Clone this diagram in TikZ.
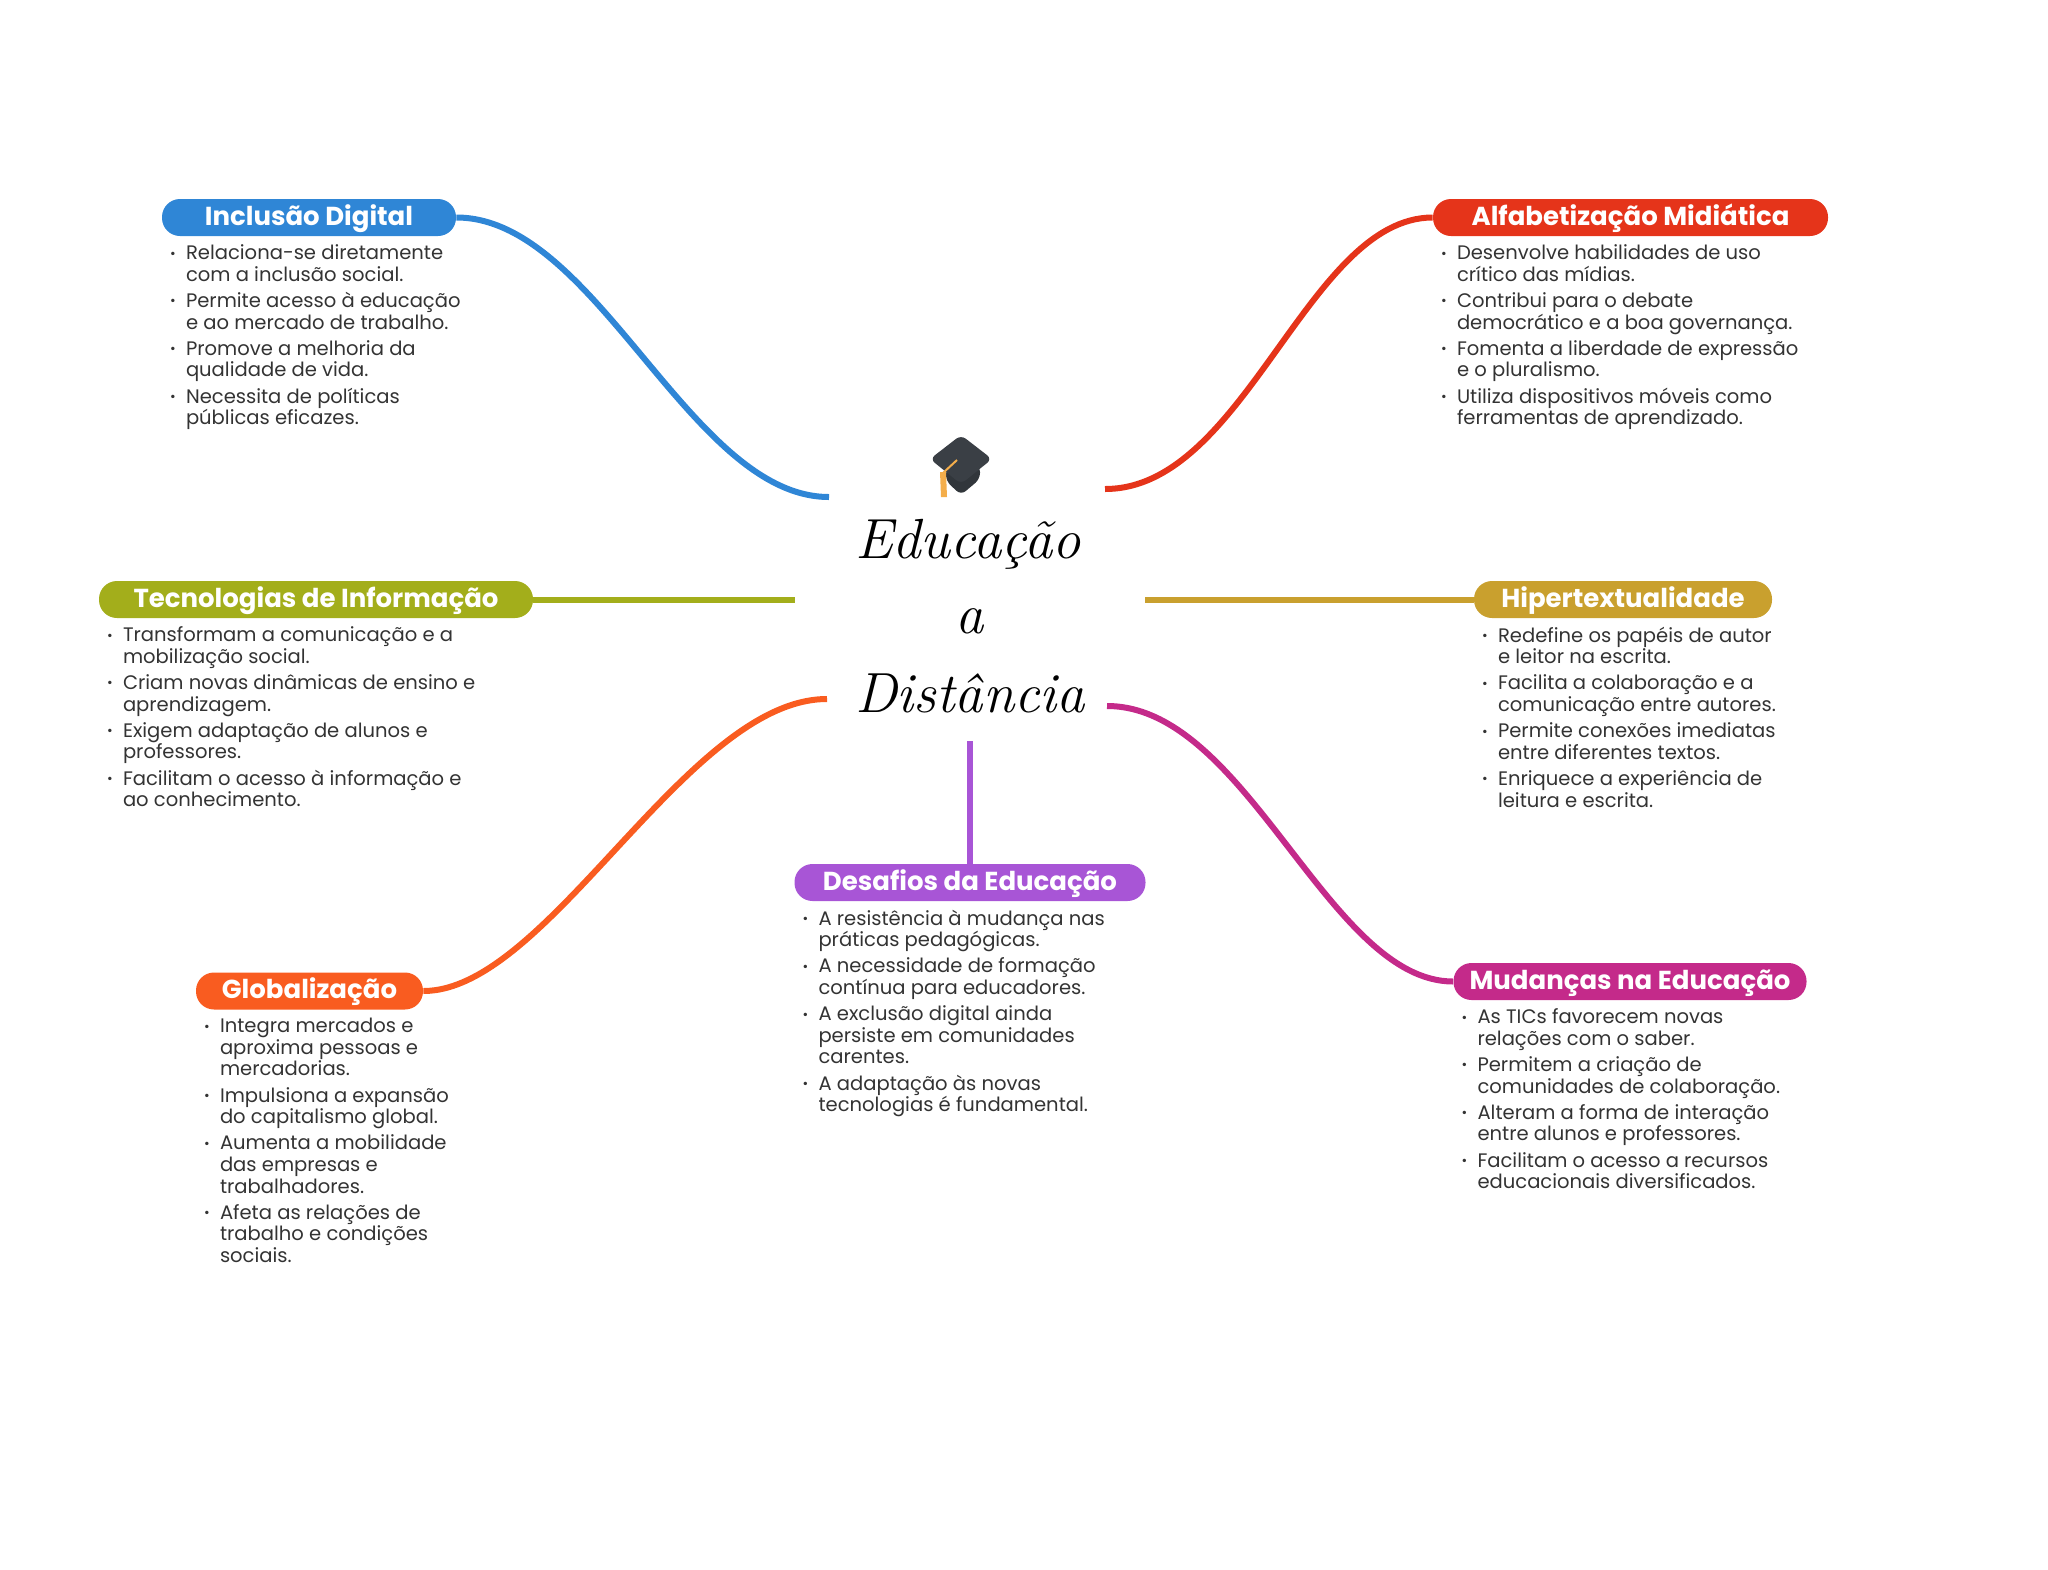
\documentclass[tikz,border=0pt]{standalone}
\usepackage{fontspec}
\setmainfont{Poppins}
\newfontfamily\titulofont{Latin Modern Roman}
\usepackage{tikz}
\usetikzlibrary{positioning}
\definecolor{azul}{HTML}{2F86D6}
\definecolor{vermelho}{HTML}{E5341A}
\definecolor{oliva}{HTML}{A3AE1B}
\definecolor{ouro}{HTML}{C9A02E}
\definecolor{roxo}{HTML}{A855D6}
\definecolor{laranja}{HTML}{F95C20}
\definecolor{magenta2}{HTML}{C42A8A}
\definecolor{texto}{HTML}{333333}
\definecolor{chapeu}{HTML}{3A3F45}
\definecolor{borla}{HTML}{F4AE4B}
\tikzset{
	ramo/.style={draw=none,rounded corners=9pt,minimum height=18.5pt,inner sep=0pt,text=white,text height=9.5pt,text depth=2pt,font=\bfseries\fontsize{13}{13}\selectfont},
	lista/.style={inner sep=0pt,align=left,text=texto,font=\fontsize{9.78}{10.8}\selectfont},
	liga/.style={line width=3pt},
	titulo/.style={inner sep=0pt,font=\titulofont\itshape\fontsize{28.3}{29}\selectfont}
}
\newcommand{\itm}{\makebox[8pt][l]{\raisebox{0.8pt}{\scalebox{0.7}{\textbullet}}}}
\newcommand{\cnt}{\hspace*{8pt}}
\newcommand{\sep}{\\[2.3pt]}

\begin{document}
\begin{tikzpicture}[x=0.5pt,y=-0.5pt]
	\useasboundingbox (0,0) rectangle (2048,1569);
	
	%Pontos livres junto ao centro
	\coordinate (cA) at (829,497);
	\coordinate (cB) at (1105,489);
	\coordinate (cC) at (795,599.5);
	\coordinate (cD) at (1145,599.5);
	\coordinate (cE) at (827,699);
	\coordinate (cF) at (1107,706);
	\coordinate (cG) at (970,741);
	
	%Ramos
	\node[ramo,fill=azul,minimum width=147pt] (incl) at (309,217.5) {Inclusão Digital};
	\node[ramo,fill=vermelho,minimum width=197.5pt] (alfa) at (1630.5,217.5) {Alfabetização Midiática};
	\node[ramo,fill=oliva,minimum width=217pt] (tecn) at (316,599.5) {Tecnologias de Informação};
	\node[ramo,fill=ouro,minimum width=149pt] (hipe) at (1623,599.5) {Hipertextualidade};
	\node[ramo,fill=roxo,minimum width=175.5pt] (desa) at (970,882.5) {Desafios da Educação};
	\node[ramo,fill=laranja,minimum width=113.5pt] (glob) at (309.5,991) {Globalização};
	\node[ramo,fill=magenta2,minimum width=176.5pt] (muda) at (1630,981.5) {Mudanças na Educação};
	
	%Ligacoes
	\draw[liga,azul] (incl.east) .. controls +(140,0) and (690,497) .. (cA);
	\draw[liga,vermelho] (alfa.west) .. controls +(-125,0) and (1245,489) .. (cB);
	\draw[liga,oliva] (tecn.east) -- (cC);
	\draw[liga,ouro] (hipe.west) -- (cD);
	\draw[liga,laranja] (glob.east) .. controls +(125,0) and (687,699) .. (cE);
	\draw[liga,magenta2] (muda.west) .. controls +(-125,0) and (1247,706) .. (cF);
	\draw[liga,roxo] (desa.north) -- (cG);
	
	%Listas
	\node[lista,anchor=north west,below right=4pt and 4pt of incl.south west] (lincl) {\itm Relaciona-se diretamente\\\cnt com a inclusão social.\sep
		\itm Permite acesso à educação\\\cnt e ao mercado de trabalho.\sep
		\itm Promove a melhoria da\\\cnt qualidade de vida.\sep
		\itm Necessita de políticas\\\cnt públicas eficazes.};
	\node[lista,below right=4pt and 4pt of alfa.south west] (lalfa) {\itm Desenvolve habilidades de uso\\\cnt crítico das mídias.\sep
		\itm Contribui para o debate\\\cnt democrático e a boa governança.\sep
		\itm Fomenta a liberdade de expressão\\\cnt e o pluralismo.\sep
		\itm Utiliza dispositivos móveis como\\\cnt ferramentas de aprendizado.};
	\node[lista,below right=4pt and 4pt of tecn.south west] (ltecn) {\itm Transformam a comunicação e a\\\cnt mobilização social.\sep
		\itm Criam novas dinâmicas de ensino e\\\cnt aprendizagem.\sep
		\itm Exigem adaptação de alunos e\\\cnt professores.\sep
		\itm Facilitam o acesso à informação e\\\cnt ao conhecimento.};
	\node[lista,below right=4pt and 4pt of hipe.south west] (lhipe) {\itm Redefine os papéis de autor\\\cnt e leitor na escrita.\sep
		\itm Facilita a colaboração e a\\\cnt comunicação entre autores.\sep
		\itm Permite conexões imediatas\\\cnt entre diferentes textos.\sep
		\itm Enriquece a experiência de\\\cnt leitura e escrita.};
	\node[lista,below right=4pt and 4pt of desa.south west] (ldesa) {\itm A resistência à mudança nas\\\cnt práticas pedagógicas.\sep
		\itm A necessidade de formação\\\cnt contínua para educadores.\sep
		\itm A exclusão digital ainda\\\cnt persiste em comunidades\\\cnt carentes.\sep
		\itm A adaptação às novas\\\cnt tecnologias é fundamental.};
	\node[lista,below right=4pt and 4pt of glob.south west] (lglob) {\itm Integra mercados e\\\cnt aproxima pessoas e\\\cnt mercadorias.\sep
		\itm Impulsiona a expansão\\\cnt do capitalismo global.\sep
		\itm Aumenta a mobilidade\\\cnt das empresas e\\\cnt trabalhadores.\sep
		\itm Afeta as relações de\\\cnt trabalho e condições\\\cnt sociais.};
	\node[lista,below right=4pt and 4pt of muda.south west] (lmuda) {\itm As TICs favorecem novas\\\cnt relações com o saber.\sep
		\itm Permitem a criação de\\\cnt comunidades de colaboração.\sep
		\itm Alteram a forma de interação\\\cnt entre alunos e professores.\sep
		\itm Facilitam o acesso a recursos\\\cnt educacionais diversificados.};
	
	%Titulo central
	\node[titulo,anchor=base] (t1) at (968,558) {Educação};
	\node[titulo,anchor=base] (t2) at (970,633) {a};
	\node[titulo,anchor=base] (t3) at (970,712) {Distância};
	
	%Chapeu
	\fill[chapeu!85!black,rounded corners=3pt] (946,468) -- (946,481) -- (961,495) -- (980,479) -- (980,466) -- cycle;
	\fill[chapeu,rounded corners=3pt] (961,435) -- (992,459) -- (961,484) -- (930,459) -- cycle;
	\draw[borla,line width=1pt] (957,460) -- (943,473);
	\fill[borla] (940,472) -- (946,472) -- (947,497) -- (941,497) -- cycle;
\end{tikzpicture}
\end{document}
